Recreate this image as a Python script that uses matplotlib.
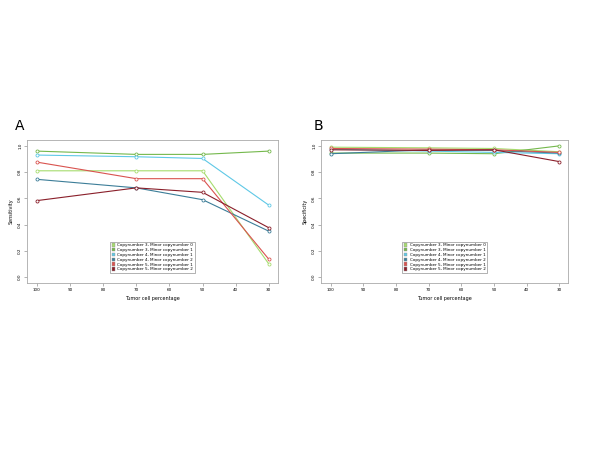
import matplotlib.pyplot as plt
from matplotlib.patches import Patch

tumor_pct = [100, 70, 50, 30]
xticks = [100, 90, 80, 70, 60, 50, 40, 30]
labels = ['Copynumber 3, Minor copynumber 0',
          'Copynumber 3, Minor copynumber 1',
          'Copynumber 4, Minor copynumber 1',
          'Copynumber 4, Minor copynumber 2',
          'Copynumber 5, Minor copynumber 1',
          'Copynumber 5, Minor copynumber 2']
colors = ['#a6dc6e', '#74b84c', '#5ec8e6', '#3c7d98', '#d9534f', '#8a1f2a']

# panel A: sensitivity
sens = [
    [0.81, 0.81, 0.81, 0.10],
    [0.96, 0.935, 0.935, 0.96],
    [0.93, 0.917, 0.904, 0.548],
    [0.745, 0.68, 0.59, 0.35],
    [0.876, 0.75, 0.75, 0.136],
    [0.583, 0.68, 0.646, 0.376],
]
# panel B: specificity
spec = [
    [0.99, 0.985, 0.98, 0.955],
    [0.945, 0.945, 0.94, 1.0],
    [0.975, 0.96, 0.95, 0.94],
    [0.94, 0.97, 0.965, 0.945],
    [0.98, 0.975, 0.97, 0.95],
    [0.97, 0.965, 0.97, 0.88],
]

fig = plt.figure(figsize=(6, 4.5), dpi=100)
axA = fig.add_axes([0.045, 0.371, 0.418, 0.318])
axB = fig.add_axes([0.535, 0.371, 0.412, 0.318])

def draw(ax, vals, ylabel, leg_anchor):
    for v, c in zip(vals, colors):
        ax.plot(tumor_pct, v, '-o', color=c, lw=0.8, ms=2.2, mfc='white', mew=0.6)
    ax.set_xlim(103, 27.3)
    ax.set_ylim(-0.045, 1.045)
    ax.set_xticks(xticks)
    ax.set_yticks([0.0, 0.2, 0.4, 0.6, 0.8, 1.0])
    ax.set_yticklabels(['0.0', '0.2', '0.4', '0.6', '0.8', '1.0'], rotation=90, va='center')
    ax.tick_params(labelsize=3, length=2, width=0.4, color='#777777', pad=1.5)
    for s in ax.spines.values():
        s.set_color('#aaaaaa')
        s.set_linewidth(0.6)
    ax.set_xlabel('Tumor cell percentage', fontsize=3.5, labelpad=3)
    ax.set_ylabel(ylabel, fontsize=3.5, labelpad=3)
    handles = [Patch(facecolor=c, edgecolor='#999999', lw=0.3) for c in colors]
    ax.legend(handles, labels, fontsize=3, loc='center', bbox_to_anchor=leg_anchor,
              frameon=True, fancybox=False, edgecolor='#777777', handlelength=0.9,
              handleheight=0.9, borderpad=0.4, labelspacing=0.15, handletextpad=0.5)

draw(axA, sens, 'Sensitivity', (0.5, 0.18))
draw(axB, spec, 'Specificity', (0.5, 0.18))
axA.legend_.get_frame().set_linewidth(0.5)
axB.legend_.get_frame().set_linewidth(0.5)

fig.text(0.025, 0.71, 'A', fontsize=10)
fig.text(0.522, 0.71, 'B', fontsize=10)

fig.savefig('out.png', dpi=100)
